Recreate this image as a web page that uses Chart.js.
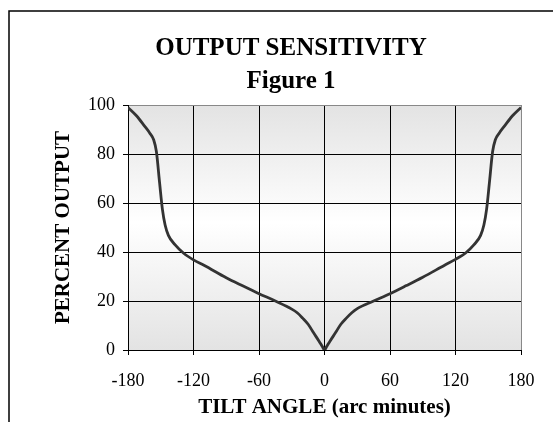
<!DOCTYPE html>
<html>
<head>
<meta charset="utf-8">
<script src="https://cdn.jsdelivr.net/npm/chart.js@4/dist/chart.umd.min.js"></script>
<style>
  html, body { margin: 0; padding: 0; background: #fff; }
  #wrap { width: 553px; height: 422px; }
</style>
</head>
<body>
<div id="wrap"><canvas id="sensChart" width="553" height="422"></canvas></div>
<script>
// tilt angle (arc minutes)
const tiltAngle = [-180, -172, -165, -160, -156.5, -154, -151, -148.5, -146, -143, -137, -129, -120, -110,
    -90, -75, -60, -45, -30, -25, -20, -15, -10, -5, -2, 0,
    2, 5, 10, 15, 20, 25, 30, 45, 60, 75, 90,
    110, 120, 129, 137, 143, 146, 148.5, 151, 154, 156.5, 160, 165, 172, 180];
// percent output at each angle
const percentOutput = [99, 95.5, 91.5, 88.5, 85.8, 81, 68, 57.5, 51, 46.8, 43, 39.5, 36.8, 34.5,
    29.5, 26.2, 23, 20, 16.7, 15.2, 13, 10.5, 7, 3.6, 1.4, 0,
    1.4, 3.6, 7, 10.5, 13, 15.2, 16.9, 20, 23, 26.3, 29.7,
    34.6, 37, 39.5, 43, 46.8, 51, 57.5, 68, 81, 85.8, 88.5, 91.5, 95.5, 99];

const xTicks = [-180, -120, -60, 0, 60, 120, 180];
const yTicks = [0, 20, 40, 60, 80, 100];

const titleLines = ['OUTPUT SENSITIVITY', 'Figure 1'];
const xTitle = 'TILT ANGLE (arc minutes)';
const yTitle = 'PERCENT OUTPUT';

// frame round the chart and the grey-white-grey plot fill
const plotBackground = {
    id: 'plotBackground',
    beforeDraw(chart) {
        const { ctx, chartArea: a } = chart;
        ctx.save();
        ctx.strokeStyle = '#000';
        ctx.lineWidth = 1.5;
        ctx.beginPath();
        ctx.moveTo(9, 422);
        ctx.lineTo(9, 11);
        ctx.lineTo(553, 11);
        ctx.stroke();

        const g = ctx.createLinearGradient(0, a.top, 0, a.bottom);
        g.addColorStop(0, '#e3e3e3');
        g.addColorStop(0.48, '#ffffff');
        g.addColorStop(1, '#e3e3e3');
        ctx.fillStyle = g;
        ctx.fillRect(a.left, a.top, a.right - a.left, a.bottom - a.top);
        ctx.restore();
    }
};

Chart.defaults.font.family = "'Liberation Serif', 'Times New Roman', serif";
Chart.defaults.color = '#000';

const ctx = document.getElementById('sensChart').getContext('2d');
new Chart(ctx, {
    type: 'scatter',
    data: {
        datasets: [{
            label: yTitle,
            data: tiltAngle.map((x, i) => ({ x: x, y: percentOutput[i] })),
            showLine: true,
            borderColor: '#333',
            borderWidth: 2.8,
            pointRadius: 0,
            pointHoverRadius: 0,
            cubicInterpolationMode: 'monotone',
            fill: false
        }]
    },
    options: {
        responsive: false,
        animation: false,
        devicePixelRatio: 1,
        layout: { padding: { top: 32, left: 61, right: 32, bottom: 0 } },
        plugins: {
            legend: { display: false },
            tooltip: { enabled: false },
            title: {
                display: true,
                text: titleLines,
                color: '#000',
                font: { size: 25, weight: 'bold', lineHeight: 1.32 },
                padding: { top: 0, bottom: 7 }
            }
        },
        scales: {
            x: {
                type: 'linear',
                min: -180,
                max: 180,
                afterFit: s => { s.height = 72; },
                afterBuildTicks: s => { s.ticks = xTicks.map(v => ({ value: v })); },
                ticks: { font: { size: 18 }, padding: 15, maxRotation: 0 },
                grid: {
                    color: c => (c.tick && c.tick.value === 180) ? '#888' : '#000',
                    tickColor: '#000',
                    tickLength: 5,
                    lineWidth: 1
                },
                border: { display: true, color: '#000', width: 1 },
                title: {
                    display: true,
                    text: xTitle,
                    font: { size: 21, weight: 'bold' },
                    padding: { top: 0, bottom: 2 }
                }
            },
            y: {
                min: 0,
                max: 100,
                afterFit: s => { s.width = 67; },
                afterBuildTicks: s => { s.ticks = yTicks.map(v => ({ value: v })); },
                ticks: { font: { size: 18 }, padding: 8 },
                grid: {
                    color: c => (c.tick && c.tick.value === 100) ? '#888' : '#000',
                    tickColor: '#000',
                    tickLength: 5,
                    lineWidth: 1
                },
                border: { display: true, color: '#000', width: 1 },
                title: {
                    display: true,
                    text: yTitle,
                    font: { size: 21, weight: 'bold' },
                    padding: { top: -10, bottom: 0 }
                }
            }
        }
    },
    plugins: [plotBackground]
});
</script>
</body>
</html>
